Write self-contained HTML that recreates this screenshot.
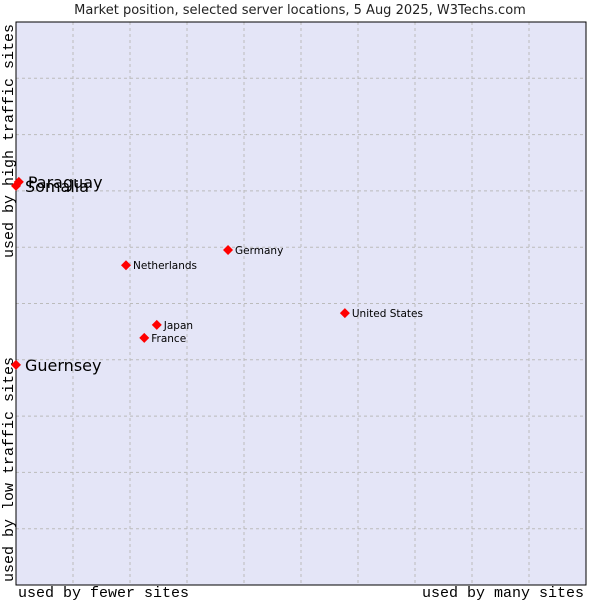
<!DOCTYPE html>
<html><head><meta charset="utf-8"><style>
body{margin:0;width:600px;height:600px;background:#fff;overflow:hidden}
svg{display:block}
.sans{font-family:"DejaVu Sans","Liberation Sans",sans-serif}
.mono{font-family:"Liberation Mono","DejaVu Sans Mono",monospace}
</style></head><body>
<svg width="600" height="600">
<text class="sans" x="300" y="14" text-anchor="middle" font-size="13" fill="#222">Market position, selected server locations, 5 Aug 2025, W3Techs.com</text>
<rect x="16" y="22" width="570" height="563" fill="#e4e5f7" stroke="#000" stroke-width="1"/>
<g id="grid"></g>
<rect x="16" y="22" width="570" height="563" fill="none" stroke="#000" stroke-width="1"/>
<text class="mono" x="0" y="0" text-anchor="start" font-size="15" transform="translate(13 582) rotate(-90)" fill="#000">used by low traffic sites</text>
<text class="mono" x="0" y="0" text-anchor="end" font-size="15" transform="translate(13 24) rotate(-90)" fill="#000">used by high traffic sites</text>
<text class="mono" x="18" y="597" font-size="15" fill="#000">used by fewer sites</text>
<text class="mono" x="584" y="597" text-anchor="end" font-size="15" fill="#000">used by many sites</text>
<g id="points"></g>
</svg>
<script>
const names=["Paraguay","Somalia","Guernsey","Netherlands","Germany","United States","Japan","France"];
const xVals=[0.05,0.0,0.0,1.93,3.72,5.77,2.47,2.25];
const yVals=[7.16,7.09,3.91,5.68,5.95,4.83,4.62,4.39];
const big=[true,true,true,false,false,false,false,false];
const X0=16,X1=586,Y0=585,Y1=22;
const sx=v=>X0+(X1-X0)*v/10, sy=v=>Y0-(Y0-Y1)*v/10;
const NS="http://www.w3.org/2000/svg";
const g=document.getElementById('grid');
for(let i=1;i<10;i++){
 const l=document.createElementNS(NS,'line');
 
 
 l.setAttribute('x1',sx(i));l.setAttribute('x2',sx(i));l.setAttribute('y1',Y1);l.setAttribute('y2',Y0);
 l.setAttribute('stroke','#bbb');l.setAttribute('stroke-dasharray','3,3');g.appendChild(l);
 const m=document.createElementNS(NS,'line');
 
 
 m.setAttribute('y1',sy(i));m.setAttribute('y2',sy(i));m.setAttribute('x1',X0);m.setAttribute('x2',X1);
 m.setAttribute('stroke','#bbb');m.setAttribute('stroke-dasharray','3,3');g.appendChild(m);
}
const p=document.getElementById('points');
names.forEach((n,i)=>{
 const x=sx(xVals[i]),y=sy(yVals[i]);
 const d=document.createElementNS(NS,'path');
 
 
 d.setAttribute('d',`M${x-5},${y}L${x},${y-5}L${x+5},${y}L${x},${y+5}Z`);
 d.setAttribute('fill','#f00');p.appendChild(d);
 const t=document.createElementNS(NS,'text');
 
 
 t.setAttribute('class','sans');
 t.setAttribute('x',x+(big[i]?9:7));t.setAttribute('y',y+(big[i]?6:4));
 t.setAttribute('font-size',big[i]?16:10.5);t.setAttribute('fill','#000');
 t.textContent=n;p.appendChild(t);
});
</script>
</body></html>
